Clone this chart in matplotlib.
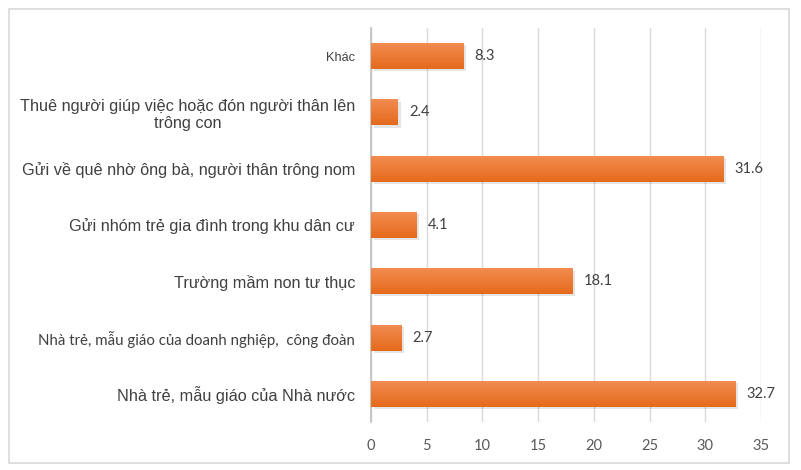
import numpy as np
import matplotlib.pyplot as plt
from matplotlib.patches import Rectangle

# data, bottom to top
categories = [
    "Nhà trẻ, mẫu giáo của Nhà nước",
    "Nhà trẻ, mẫu giáo của doanh nghiệp,  công đoàn",
    "Trường mầm non tư thục",
    "Gửi nhóm trẻ gia đình trong khu dân cư",
    "Gửi về quê nhờ ông bà, người thân trông nom",
    "Thuê người giúp việc hoặc đón người thân lên\ntrông con",
    "Khác",
]
values = [32.7, 2.7, 18.1, 4.1, 31.6, 2.4, 8.3]
xticks = [0, 5, 10, 15, 20, 25, 30, 35]

fig = plt.figure(figsize=(8.01, 4.70), dpi=100)
ax = fig.add_axes([371 / 801, 1 - 422 / 470, 390 / 801, 394 / 470])

# outer chart border
fig.patches.append(Rectangle((9 / 801, 1 - 463 / 470), 780 / 801, 454 / 470,
                             transform=fig.transFigure, fill=False,
                             edgecolor="#d9d9d9", linewidth=1.2))

y = np.arange(len(categories))
h = 0.46

# soft shadow
ax.barh(y - 0.04, values, height=h, left=0.25, color="#000000", alpha=0.10,
        zorder=2, linewidth=0)
bars = ax.barh(y, values, height=h, color="#ec7428", zorder=3, linewidth=0)

# vertical gradient on every bar
grad = np.linspace(0, 1, 64).reshape(-1, 1)
cmap = plt.matplotlib.colors.LinearSegmentedColormap.from_list(
    "org", ["#e56a1c", "#f28c50"])
for b in bars:
    x0, y0 = b.get_x(), b.get_y()
    im = ax.imshow(grad, cmap=cmap, aspect="auto", origin="lower",
                   extent=[x0, x0 + b.get_width(), y0, y0 + b.get_height()],
                   zorder=4)
    im.set_clip_path(b)

for yi, v in zip(y, values):
    ax.text(v + 1.0, yi, f"{v}", va="center", ha="left", fontsize=10.5,
            family="Lato", color="#404040", zorder=5)

ax.set_xlim(0, 35)
ax.set_ylim(-0.5, len(categories) - 0.5)
ax.set_xticks(xticks)
ax.set_xticklabels([str(t) for t in xticks], family="Lato", fontsize=10.5,
                   color="#595959")
ax.set_yticks(y)
ax.set_yticklabels(categories, family="Liberation Sans", color="#404040",
                   multialignment="center")

label_sizes = [11.7, 10.8, 11.7, 11.7, 11.7, 11.7, 9.2]
for lab, s in zip(ax.get_yticklabels(), label_sizes):
    lab.set_fontsize(s)
ax.get_yticklabels()[1].set_family("Lato")

ax.tick_params(axis="both", length=0)
ax.tick_params(axis="y", pad=11.5)
ax.tick_params(axis="x", pad=12)
ax.grid(axis="x", color="#d9d9d9", linewidth=1, zorder=0)
ax.set_axisbelow(True)
for s in ["top", "right", "bottom"]:
    ax.spines[s].set_visible(False)
ax.spines["left"].set_color("#bfbfbf")
ax.spines["left"].set_linewidth(1.2)

fig.savefig("out.png", dpi=100)
